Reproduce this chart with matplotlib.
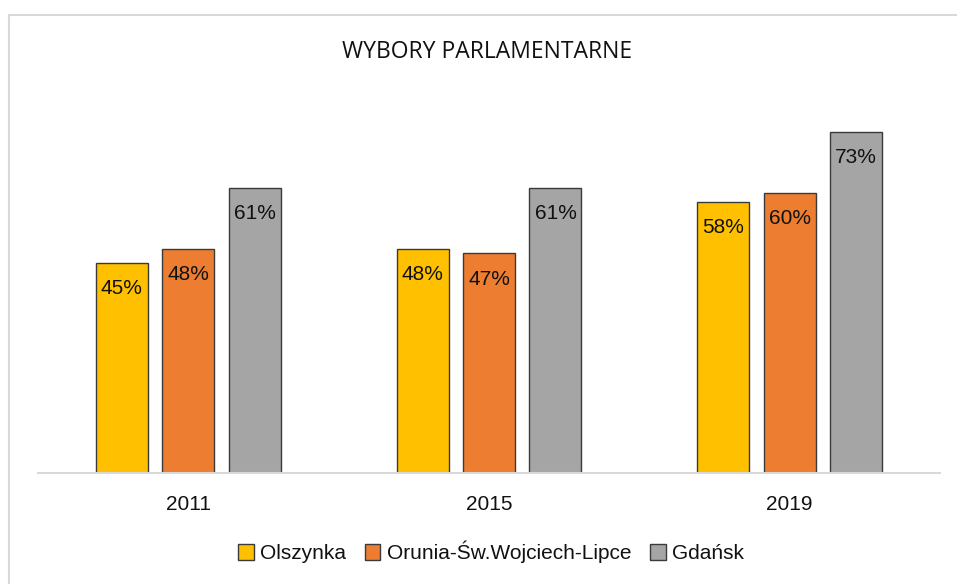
import numpy as np
import matplotlib
matplotlib.use('Agg')
import matplotlib.pyplot as plt
from matplotlib.patches import Rectangle, Patch

lata = ['2011', '2015', '2019']
olszynka = [45, 48, 58]
orunia = [48, 47, 60]
gdansk = [61, 61, 73]
serie = ['Olszynka', 'Orunia-Św.Wojciech-Lipce', 'Gdańsk']
farby = ['#FFC000', '#ED7D31', '#A5A5A5']

W, H = 957, 584
font = ['Liberation Sans Narrow', 'Liberation Sans', 'DejaVu Sans']

fig = plt.figure(figsize=(W / 100, H / 100), dpi=100)
fig.patch.set_facecolor('white')

# jasnoszara ramka wykresu (prawa i dolna krawedz poza obrazem)
fig.add_artist(Rectangle((8.5 / W, -0.1), 1.2, 1.1 - 15 / H,
                         transform=fig.transFigure, fill=False,
                         edgecolor='#D9D9D9', linewidth=1.5))

ax = fig.add_axes([38 / W, (H - 473) / H, 902 / W, 374 / H])
ax.set_xlim(-0.5, 2.5)
ax.set_ylim(0, 80)

x = np.arange(len(lata))
szer = 0.173
odst = 0.221
for i, (vals, kol) in enumerate(zip([olszynka, orunia, gdansk], farby)):
    pos = x + (i - 1) * odst
    ax.bar(pos, vals, width=szer, color=kol, edgecolor='#3a3a3a',
           linewidth=1.0, zorder=2)
    for px, v in zip(pos, vals):
        ax.annotate(f'{v}%', (px, v), xytext=(0, -26), textcoords='offset pixels',
                    ha='center', va='center', fontsize=15, family=font,
                    color='#111111', zorder=3)

for s in ['top', 'right', 'left']:
    ax.spines[s].set_visible(False)
ax.spines['bottom'].set_color('#D9D9D9')
ax.spines['bottom'].set_linewidth(1.5)
ax.set_yticks([])
ax.set_xticks(x)
ax.set_xticklabels(lata, fontsize=15, family=font, color='#111111')
ax.tick_params(axis='x', length=0, pad=16)

fig.text(0.5093, 1 - 52 / H, 'WYBORY PARLAMENTARNE', ha='center', va='center',
         fontsize=16.5, family='Open Sans', color='#111111')

uchwyty = [Patch(facecolor=k, edgecolor='#3a3a3a', linewidth=1.0) for k in farby]
fig.legend(uchwyty, serie, loc='center', bbox_to_anchor=(0.513, 1 - 552 / H),
           ncol=3, frameon=False, prop={'family': font, 'size': 15},
           handlelength=0.75, handleheight=0.75, handletextpad=0.3,
           columnspacing=0.9, labelcolor='#111111')

fig.savefig('out.png', dpi=100, facecolor='white')
